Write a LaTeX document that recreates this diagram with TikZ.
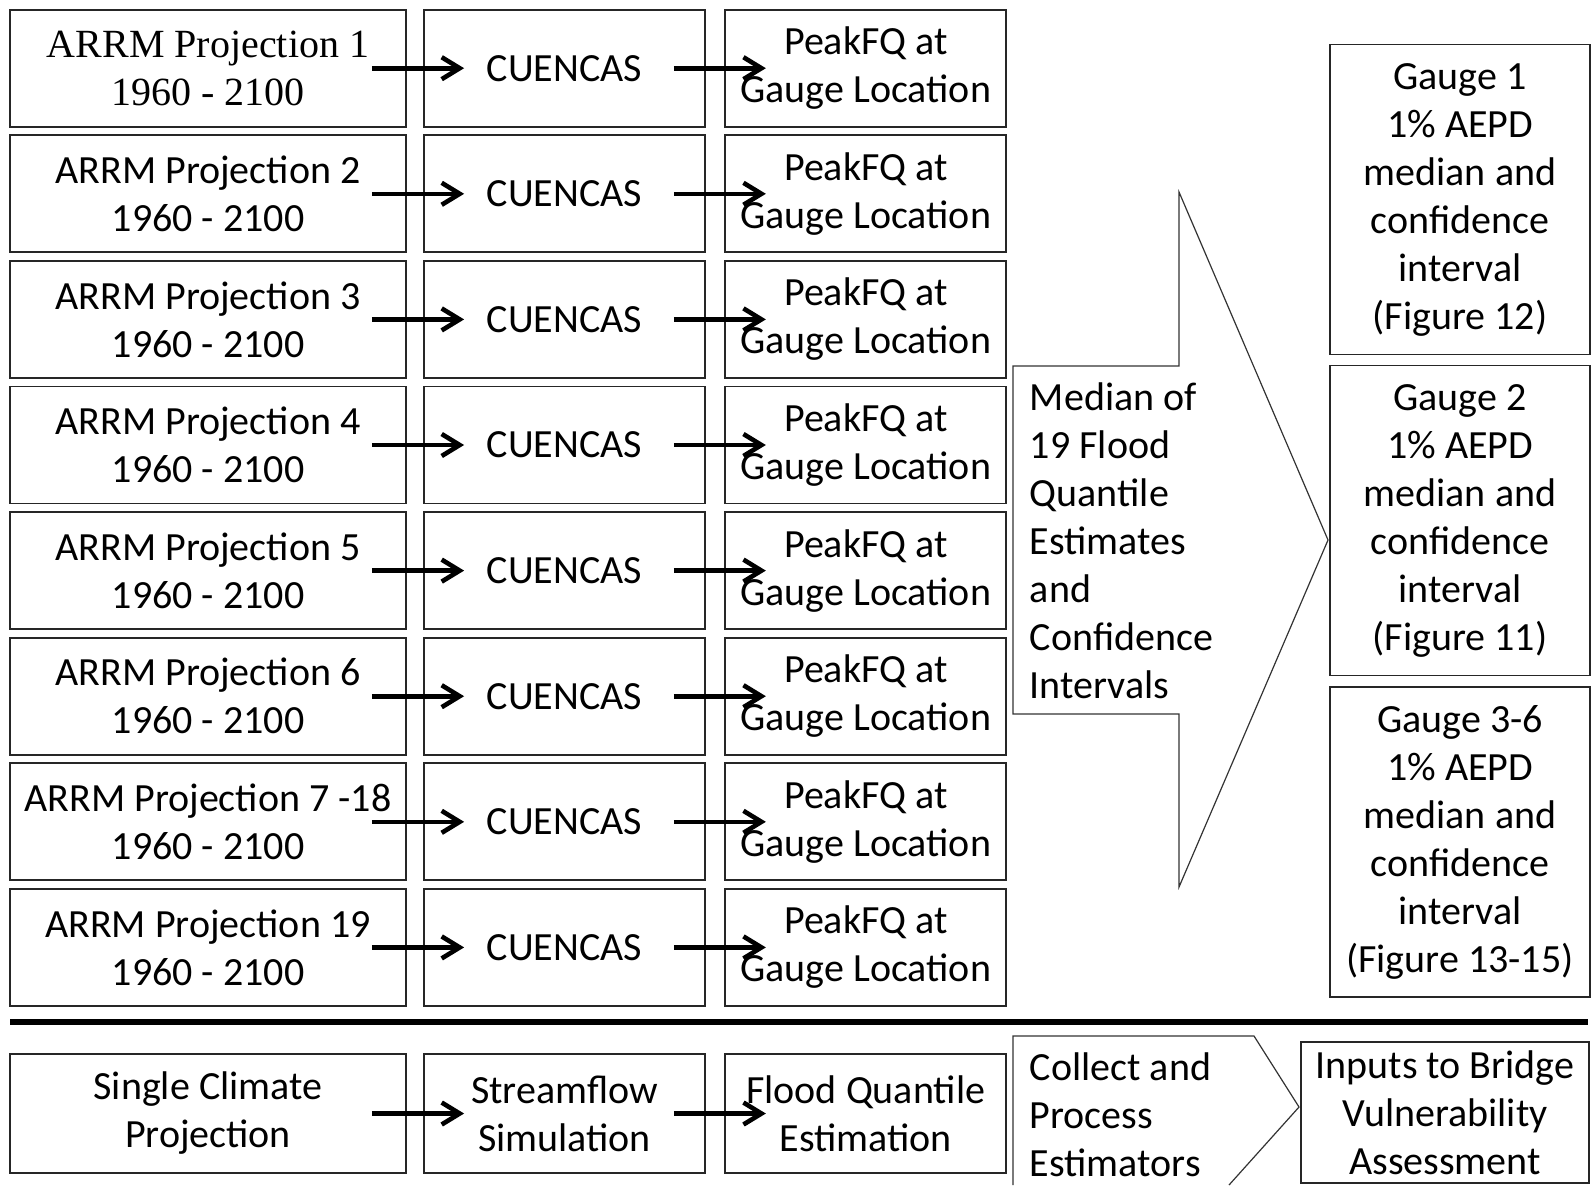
\documentclass[tikz,border=0pt]{standalone}
\usepackage{fontspec}
\setmainfont{Carlito}
\newfontfamily\serifface{Liberation Serif}
\usetikzlibrary{arrows.meta}

\begin{document}
\begin{tikzpicture}[x=0.5pt,y=-0.5pt]
  \fontsize{20}{24}\selectfont
  \useasboundingbox (0,0) rectangle (1593,1185);
  \tikzstyle{every node}=[rectangle,draw=black!85,line width=0.9pt,align=center,inner sep=0pt]
  \tikzstyle{link}=[-{Straight Barb[length=9pt,width=11pt]},line width=2.3pt]
  \newcommand{\rowpitch}{125.6}
  \newcommand{\rowofs}{68.2}

%% projection -> CUENCAS -> PeakFQ rows
  \foreach \n/\fnt/\txt in {1/\serifface/ARRM Projection 1, 2/\relax/ARRM Projection 2,
                            3/\relax/ARRM Projection 3,    4/\relax/ARRM Projection 4,
                            5/\relax/ARRM Projection 5,    6/\relax/ARRM Projection 6,
                            7/\relax/ARRM Projection 7 -18, 8/\relax/ARRM Projection 19} {
    \pgfmathsetmacro{\yrow}{\rowofs+\rowpitch*(\n-1)}
    \node[minimum width=198pt,minimum height=58.5pt,font=\fnt] (proj\n) at (208,\yrow) {\txt\\1960 - 2100};
    \node[minimum width=140.5pt,minimum height=58.5pt] (cuen\n) at (564.5,\yrow) {CUENCAS};
    \node[minimum width=140.5pt,minimum height=58.5pt] (peak\n) at (865.75,\yrow) {PeakFQ at\\Gauge Location};
    \draw[link,shorten <=-17.5pt,shorten >=-20.5pt] (proj\n) -- (cuen\n);
    \draw[link,shorten <=-16pt,shorten >=-20.75pt] (cuen\n) -- (peak\n);
  }

%% median arrow
  \draw[black!80,line width=0.6pt] (1013,366) -- (1179,366) -- (1179,192) -- (1328,540)
    -- (1179,887) -- (1179,714) -- (1013,714) -- cycle;
  \node[draw=none,anchor=west,align=left] (median) at (1029,541)
    {Median of\\19 Flood\\Quantile\\Estimates\\and\\Confidence\\Intervals};

%% gauge results
  \foreach \n/\y/\g/\fig in {1/199.5/1/12, 2/520.5/2/11, 3/842/3-6/13-15}
    \node[minimum width=130pt,minimum height=155pt] (gauge\n) at (1460,\y)
      {Gauge \g\\1\% AEPD\\median and\\confidence\\interval\\(Figure \fig)};

%% separator
  \coordinate (sep-l) at (10,1022);
  \coordinate (sep-r) at (1588,1022);
  \draw[line width=3pt] (sep-l) -- (sep-r);

%% single projection row
  \node[minimum width=198pt,minimum height=59.5pt] (single) at (208,1113.5) {Single Climate\\Projection};
  \node[minimum width=140.5pt,minimum height=59.5pt] (stream) at (564.5,1113.5) {Streamflow\\Simulation};
  \node[minimum width=140.5pt,minimum height=59.5pt] (quant) at (865.75,1113.5) {Flood Quantile\\Estimation};
  \draw[link,shorten <=-17.5pt,shorten >=-20.5pt] (single) -- (stream);
  \draw[link,shorten <=-16pt,shorten >=-20.75pt] (stream) -- (quant);

  \draw[black!80,line width=0.6pt] (1013,1185) -- (1013,1036) -- (1254,1036) -- (1299,1107) -- (1229,1185);
  \node[draw=none,anchor=west,align=left] (collect) at (1029,1115) {Collect and\\Process\\Estimators};
  \node[minimum width=144pt,minimum height=70.5pt] (inputs) at (1445,1112.5)
    {Inputs to Bridge\\Vulnerability\\Assessment};
\end{tikzpicture}
\end{document}
